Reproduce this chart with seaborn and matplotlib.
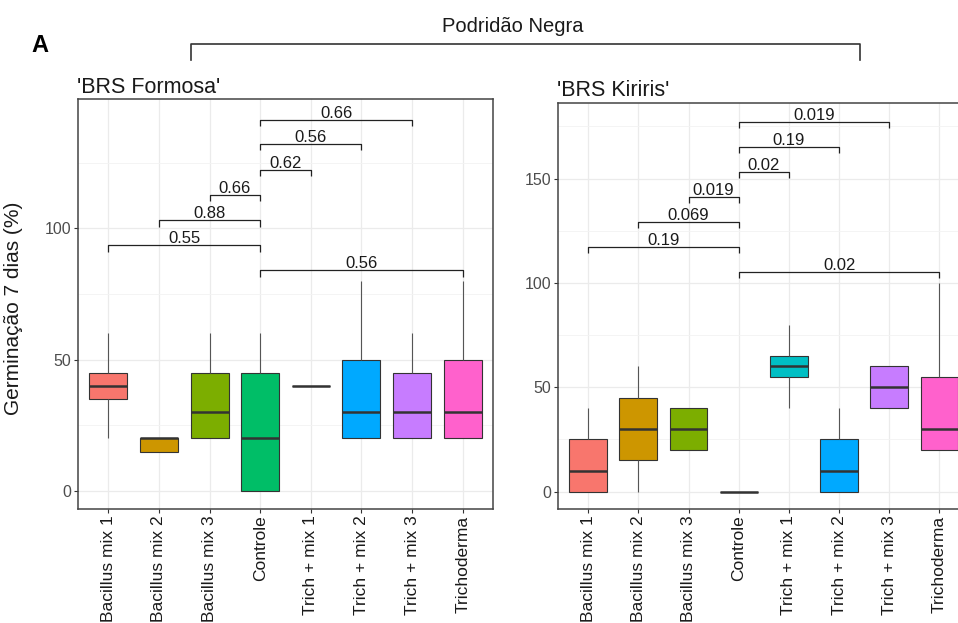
import numpy as np
import pandas as pd
import matplotlib
matplotlib.use("Agg")
import matplotlib.pyplot as plt
from matplotlib.lines import Line2D
import seaborn as sns

plt.rcParams["font.family"] = ["Liberation Sans", "DejaVu Sans"]

# ---------------- data ----------------
tratamentos = ["Bacillus mix 1", "Bacillus mix 2", "Bacillus mix 3", "Controle",
               "Trich + mix 1", "Trich + mix 2", "Trich + mix 3", "Trichoderma"]
cores = ["#F8766D", "#CD9600", "#7CAE00", "#00BE67",
         "#00BFC4", "#00A9FF", "#C77CFF", "#FF61CC"]

formosa_valores = [
    [20, 35, 40, 45, 60],
    [15, 15, 20, 20, 20],
    [20, 20, 30, 45, 60],
    [0, 0, 20, 45, 60],
    [40, 40, 40, 40, 40],
    [20, 20, 30, 50, 80],
    [20, 20, 30, 45, 60],
    [20, 20, 30, 50, 80],
]
kiriris_valores = [
    [0, 0, 10, 25, 40],
    [0, 15, 30, 45, 60],
    [20, 20, 30, 40, 40],
    [0, 0, 0, 0, 0],
    [40, 55, 60, 65, 80],
    [0, 0, 10, 25, 40],
    [40, 40, 50, 60, 60],
    [20, 20, 30, 55, 100],
]

comparacoes = [("Bacillus mix 1", "Controle"), ("Bacillus mix 2", "Controle"),
               ("Bacillus mix 3", "Controle"), ("Controle", "Trich + mix 1"),
               ("Controle", "Trich + mix 2"), ("Controle", "Trich + mix 3"),
               ("Controle", "Trichoderma")]
formosa_p = ["0.55", "0.88", "0.66", "0.62", "0.56", "0.66", "0.56"]
formosa_y = [93.5, 103.2, 112.8, 122.4, 132.2, 141.4, 84.1]
kiriris_p = ["0.19", "0.069", "0.019", "0.02", "0.19", "0.019", "0.02"]
kiriris_y = [117.1, 129.4, 141.4, 153.2, 165.0, 177.0, 105.4]

titulo_formosa = "'BRS Formosa'"
titulo_kiriris = "'BRS Kiriris'"
rotulo_y = "Germinação 7 dias (%)"
titulo_geral = "Podridão Negra"

# ---------------- figure ----------------
W, H = 958, 623
fig = plt.figure(figsize=(W / 100, H / 100), dpi=100)
ax1 = fig.add_axes([78 / W, 1 - 509 / H, 415 / W, 410 / H])
ax2 = fig.add_axes([558 / W, 1 - 509 / H, 411.6 / W, 406 / H])


def painel(ax, valores, pvals, ys, ylim, tip, major, minor):
    df = pd.DataFrame({
        "trat": np.repeat(tratamentos, [len(v) for v in valores]),
        "val": np.concatenate(valores),
    })
    ax.set_axisbelow(True)
    sns.boxplot(data=df, x="trat", y="val", hue="trat", order=tratamentos,
                hue_order=tratamentos, palette=cores, legend=False, width=0.75,
                linecolor="#333333", linewidth=0.8, whis=np.inf, saturation=1,
                showcaps=False, medianprops=dict(linewidth=1.8, color="#333333"),
                whiskerprops=dict(color="#555555"),
                ax=ax)
    ax.set_yticks(major)
    ax.set_yticks(minor, minor=True)
    ax.xaxis.grid(True, which="major", color="#EBEBEB", linewidth=0.9)
    ax.yaxis.grid(True, which="major", color="#EBEBEB", linewidth=0.9)
    ax.yaxis.grid(True, which="minor", color="#F3F3F3", linewidth=0.6)
    ax.set_xlim(-0.6, 7.6)
    ax.set_ylim(*ylim)
    ax.set_xlabel("")
    ax.set_ylabel("")
    for (a, b), p, y in zip(comparacoes, pvals, ys):
        xa, xb = tratamentos.index(a), tratamentos.index(b)
        ax.plot([xa, xa, xb, xb], [y - tip, y, y, y - tip], color="#222222",
                linewidth=0.9, solid_capstyle="butt", zorder=5)
        ax.text((xa + xb) / 2, y + tip * 0.3, p, ha="center", va="baseline",
                fontsize=12, color="#1A1A1A", zorder=6)
    for s in ax.spines.values():
        s.set_color("#444444")
        s.set_linewidth(1.1)
    ax.tick_params(axis="x", labelrotation=90, labelsize=12.5, colors="#333333",
                   labelcolor="#1A1A1A", length=2.7, width=0.8, pad=2)
    ax.tick_params(axis="y", which="major", labelsize=11.5, colors="#333333",
                   labelcolor="#4D4D4D", length=2.7, width=0.8, pad=2)
    ax.tick_params(axis="y", which="minor", length=0)


painel(ax1, formosa_valores, formosa_p, formosa_y, (-6.9, 149.3), 2.5,
       [0, 50, 100], [25, 75, 125])
painel(ax2, kiriris_valores, kiriris_p, kiriris_y, (-8.3, 186.2), 2.9,
       [0, 50, 100, 150], [25, 75, 125, 175])

ax1.set_ylabel(rotulo_y, fontsize=15, color="#1A1A1A")
ax1.yaxis.set_label_coords(-0.132, 0.49)

fig.text(77 / W, 1 - 93 / H, titulo_formosa, fontsize=15.5, ha="left",
         va="baseline", color="#1A1A1A")
fig.text(557 / W, 1 - 96 / H, titulo_kiriris, fontsize=15.5, ha="left",
         va="baseline", color="#1A1A1A")

fig.text(513 / W, 1 - 26 / H, titulo_geral, fontsize=14.5, ha="center",
         va="center", color="#1A1A1A")
fig.add_artist(Line2D([191 / W, 191 / W, 860 / W, 860 / W],
                      [1 - 60 / H, 1 - 44 / H, 1 - 44 / H, 1 - 60 / H],
                      transform=fig.transFigure, color="#333333", linewidth=1.2))
fig.text(40 / W, 1 - 45 / H, "A", fontsize=17, fontweight="bold",
         ha="center", va="center", color="#000000")

fig.savefig("out.png", dpi=100)
